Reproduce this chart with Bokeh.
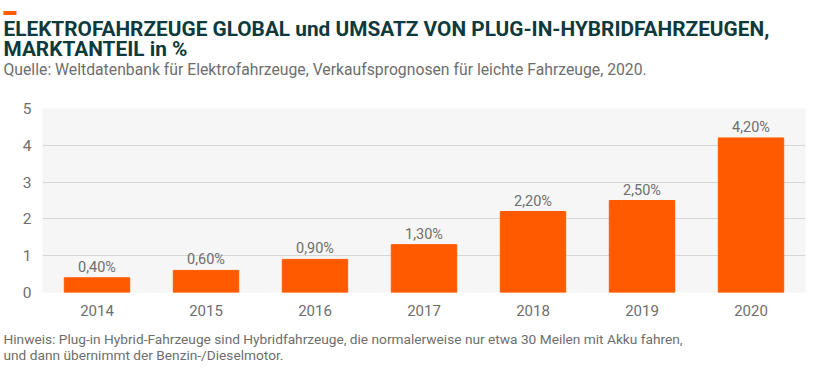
from bokeh.plotting import figure
from bokeh.models import ColumnDataSource, Range1d, LabelSet, FixedTicker, Title
from bokeh.core.properties import value
from bokeh.embed import file_html
from bokeh.resources import INLINE

# ---- data ----
years = ["2014", "2015", "2016", "2017", "2018", "2019", "2020"]
share = [0.4, 0.6, 0.9, 1.3, 2.2, 2.5, 4.2]
y_ticks = [0, 1, 2, 3, 4, 5]

title1 = "ELEKTROFAHRZEUGE GLOBAL und UMSATZ VON PLUG-IN-HYBRIDFAHRZEUGEN,"
title2 = "MARKTANTEIL in %"
subtitle = "Quelle: Weltdatenbank für Elektrofahrzeuge, Verkaufsprognosen für leichte Fahrzeuge, 2020."
note1 = "Hinweis: Plug-in Hybrid-Fahrzeuge sind Hybridfahrzeuge, die normalerweise nur etwa 30 Meilen mit Akku fahren,"
note2 = "und dann übernimmt der Benzin-/Dieselmotor."

ORANGE = "#ff5a00"
TEAL = "#0e3a3d"
GRAY = "#6e6e6e"
FONT = "Roboto"

W, H = 830, 376
FL, FT, FR, FB = 42, 108, 25, 84  # frame borders

labels = [f"{v:.2f}".replace(".", ",") + "%" for v in share]
src = ColumnDataSource(dict(x=years, top=share, lab=labels))

p = figure(width=W, height=H, x_range=years, y_range=Range1d(0, 5), title=None,
           output_backend="svg", toolbar_location=None,
           min_border_left=FL, min_border_right=FR, min_border_top=FT, min_border_bottom=FB)
p.background_fill_color = "#f6f6f6"
p.border_fill_color = "white"
p.outline_line_color = None

p.vbar(x="x", top="top", width=0.6, source=src, color=ORANGE)

p.add_layout(LabelSet(x="x", y="top", text="lab", source=src, text_align="center",
                      text_baseline="bottom", y_offset=2, text_font=value(FONT),
                      text_font_size=value("14.5px"), text_color=GRAY))

p.xgrid.grid_line_color = None
p.ygrid.grid_line_color = "#d6d6d6"
p.ygrid.ticker = FixedTicker(ticks=y_ticks)
p.yaxis.ticker = FixedTicker(ticks=y_ticks)

for ax in (p.xaxis[0], p.yaxis[0]):
    ax.axis_line_color = None
    ax.major_tick_line_color = None
    ax.minor_tick_line_color = None
    ax.major_tick_out = 0
    ax.major_tick_in = 0
    ax.minor_tick_out = 0
    ax.minor_tick_in = 0
    ax.major_label_text_font = FONT
    ax.major_label_text_color = GRAY
p.yaxis.major_label_text_font_size = "15.5px"
p.yaxis.major_label_standoff = 11
p.xaxis.major_label_text_font_size = "15px"
p.xaxis.major_label_standoff = 12

def ttl(text, loc, size, color, style="normal", standoff=0.0):
    p.add_layout(Title(text=text, align="left", offset=3 - FL, standoff=standoff,
                       text_font=FONT, text_font_size=size, text_color=color,
                       text_font_style=style), loc)

# above: first added is nearest the frame
ttl(" ", "above", "10px", "white", standoff=17.3)      # blank spacer
ttl(subtitle, "above", "15.75px", GRAY)
ttl(title2, "above", "20.8px", TEAL, "bold", standoff=-7.5)
ttl(title1, "above", "20.8px", TEAL, "bold", standoff=-5.1)
ttl("▬", "above", "13px", ORANGE, "bold", standoff=-1.0)
# below: x axis first, then blank spacer, then notes
ttl(" ", "below", "10px", "white", standoff=1.3)       # blank spacer
ttl(note1, "below", "13.7px", GRAY, standoff=-6.7)
ttl(note2, "below", "13.7px", GRAY, standoff=2.0)

open("out.html", "w").write(file_html(p, INLINE))
